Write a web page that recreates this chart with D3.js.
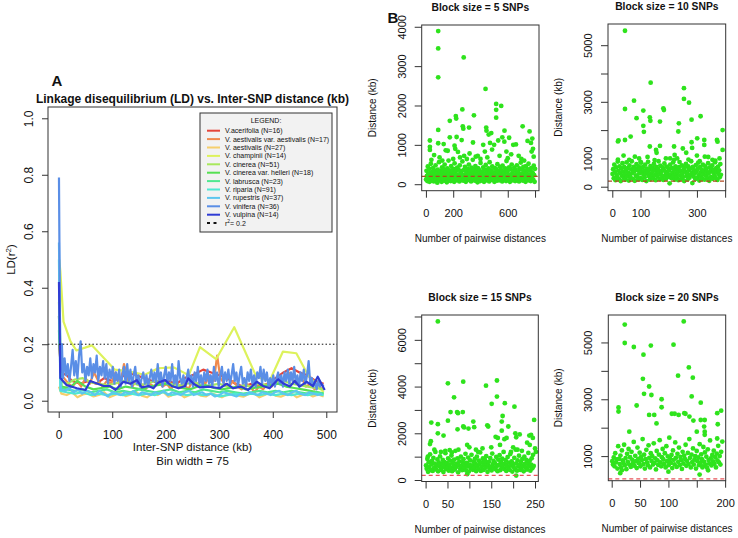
<!DOCTYPE html>
<html>
<head>
<meta charset="utf-8">
<script src="https://cdn.jsdelivr.net/npm/d3@7"></script>
<style>
  body { margin: 0; background: #fff; }
  svg { font-family: "Liberation Sans", Arial, Helvetica, sans-serif; }
</style>
</head>
<body>
<svg id="chart" width="738" height="538"></svg>
<script>
// ---------- Panel A: LD decay per species, [kb, r2] ----------
const species = [
  "V.acerifolia (N=16)", "V. aestivalis var. aestivalis (N=17)", "V. aestivalis (N=27)",
  "V. champinii (N=14)", "V. cinerea (N=51)", "V. cinerea var. helleri (N=18)",
  "V. labrusca (N=23)", "V. riparia (N=91)", "V. rupestris (N=37)",
  "V. vinifera (N=36)", "V. vulpina (N=14)"
];
const speciesColors = ["#e4453b", "#f08a4e", "#f6cf6c", "#ddf25c", "#a8e85c", "#55e052",
  "#4fe890", "#4fe8d2", "#5cc6ef", "#5a8ee6", "#2f3bd4"];

const acerifolia = [[0.5,0.2],[5,0.1],[15,0.09],[25,0.07],[40,0.06],[55,0.07],[70,0.06],[85,0.08],[100,0.07],[115,0.08],[130,0.1],[145,0.09],[160,0.08],[175,0.07],[190,0.06],[205,0.07],[220,0.06],[235,0.08],[250,0.09],[270,0.11],[285,0.1],[300,0.09],[315,0.08],[330,0.06],[345,0.05],[360,0.06],[375,0.05],[390,0.06],[405,0.08],[420,0.1],[435,0.115],[450,0.1],[465,0.09],[480,0.07],[495,0.06]];
const aestAest = [[0.5,0.3],[4,0.09],[10,0.08],[18,0.06],[26,0.05],[34,0.07],[42,0.05],[50,0.08],[58,0.06],[66,0.1],[74,0.07],[82,0.05],[90,0.07],[98,0.06],[106,0.1],[114,0.05],[122,0.13],[130,0.07],[138,0.05],[146,0.08],[154,0.06],[162,0.04],[170,0.06],[178,0.05],[186,0.07],[194,0.05],[202,0.06],[210,0.04],[218,0.07],[226,0.05],[234,0.06],[242,0.04],[250,0.07],[258,0.05],[266,0.08],[274,0.06],[282,0.09],[290,0.07],[296,0.16],[302,0.08],[310,0.06],[318,0.05],[326,0.07],[334,0.05],[342,0.04],[350,0.06],[358,0.05],[366,0.03],[374,0.05],[382,0.04],[390,0.06],[398,0.05],[406,0.07],[414,0.06],[422,0.08],[430,0.1],[438,0.07],[446,0.06],[454,0.08],[462,0.05],[470,0.06],[478,0.04],[486,0.05],[494,0.04]];
const aestivalis = [[0.5,0.05],[5,0.025],[15,0.02],[25,0.03],[35,0.012],[45,0.022],[55,0.026],[65,0.015],[75,0.02],[85,0.03],[95,0.012],[105,0.02],[115,0.028],[125,0.016],[135,0.022],[145,0.03],[155,0.018],[165,0.012],[175,0.025],[185,0.02],[195,0.032],[205,0.014],[215,0.022],[225,0.026],[235,0.012],[245,0.02],[255,0.03],[265,0.018],[275,0.015],[285,0.026],[295,0.02],[305,0.012],[315,0.022],[325,0.03],[335,0.018],[345,0.014],[355,0.024],[365,0.026],[375,0.012],[385,0.02],[395,0.03],[405,0.018],[415,0.014],[425,0.022],[435,0.026],[445,0.012],[455,0.02],[465,0.025],[475,0.015],[485,0.022],[495,0.015]];
const champinii = [[1,0.5],[3,0.46],[9,0.28],[22,0.21],[33,0.178],[62,0.196],[105,0.11],[130,0.104],[161,0.092],[186,0.115],[215,0.118],[243,0.09],[264,0.19],[294,0.147],[328,0.26],[369,0.086],[394,0.07],[419,0.174],[444,0.168],[466,0.09],[495,0.03]];
const cinerea = [[0.5,0.35],[5,0.07],[15,0.06],[30,0.075],[45,0.08],[60,0.065],[75,0.06],[90,0.055],[105,0.06],[120,0.07],[135,0.065],[150,0.055],[165,0.06],[180,0.07],[195,0.065],[210,0.06],[225,0.055],[240,0.06],[255,0.065],[270,0.05],[285,0.055],[300,0.06],[315,0.05],[330,0.045],[345,0.055],[360,0.05],[375,0.06],[390,0.055],[405,0.065],[420,0.07],[435,0.06],[450,0.055],[465,0.05],[480,0.045],[495,0.04]];
const helleri = [[0.5,0.25],[5,0.05],[20,0.045],[35,0.07],[50,0.05],[65,0.04],[80,0.045],[95,0.05],[110,0.04],[125,0.05],[140,0.045],[155,0.04],[170,0.05],[185,0.055],[200,0.06],[215,0.05],[230,0.045],[245,0.04],[260,0.05],[275,0.055],[290,0.045],[305,0.04],[320,0.045],[335,0.05],[350,0.04],[365,0.045],[380,0.05],[395,0.055],[410,0.06],[425,0.05],[440,0.045],[455,0.04],[470,0.035],[485,0.03],[495,0.025]];
const labrusca = [[0.5,0.3],[5,0.045],[15,0.04],[30,0.035],[45,0.04],[60,0.03],[75,0.035],[90,0.04],[105,0.03],[120,0.035],[135,0.03],[150,0.04],[165,0.035],[180,0.03],[195,0.035],[210,0.04],[225,0.03],[240,0.035],[255,0.03],[270,0.04],[285,0.035],[300,0.03],[315,0.035],[330,0.03],[345,0.025],[360,0.03],[375,0.035],[390,0.03],[405,0.035],[420,0.03],[435,0.035],[450,0.03],[465,0.025],[480,0.03],[495,0.025]];
const riparia = [[0.5,0.5],[3,0.035],[15,0.03],[30,0.025],[45,0.03],[60,0.02],[75,0.025],[90,0.02],[105,0.025],[120,0.02],[135,0.025],[150,0.02],[165,0.025],[180,0.02],[195,0.03],[210,0.02],[225,0.025],[240,0.02],[255,0.025],[270,0.02],[285,0.025],[300,0.015],[315,0.02],[330,0.025],[345,0.02],[360,0.025],[375,0.02],[390,0.025],[405,0.02],[420,0.025],[435,0.02],[450,0.025],[465,0.02],[480,0.025],[495,0.02]];
const rupestris = [[0.5,0.56],[4,0.04],[12,0.035],[20,0.045],[28,0.03],[36,0.04],[44,0.025],[52,0.035],[60,0.03],[68,0.02],[76,0.035],[84,0.025],[92,0.015],[100,0.03],[108,0.025],[116,0.02],[124,0.03],[132,0.025],[140,0.035],[148,0.02],[156,0.03],[164,0.025],[172,0.02],[180,0.03],[188,0.025],[196,0.035],[204,0.02],[212,0.03],[220,0.025],[228,0.02],[236,0.03],[244,0.035],[252,0.02],[260,0.025],[268,0.03],[276,0.02],[284,0.025],[292,0.015],[300,0.02],[308,0.03],[316,0.025],[324,0.02],[332,0.015],[340,0.025],[348,0.02],[356,0.03],[364,0.025],[372,0.02],[380,0.03],[388,0.025],[396,0.02],[404,0.03],[412,0.035],[420,0.025],[428,0.02],[436,0.03],[444,0.035],[452,0.025],[460,0.02],[468,0.03],[476,0.025],[484,0.02],[492,0.025]];
const vinifera = [[0.5,0.79],[3,0.1],[6,0.2],[8,0.08],[11,0.15],[14,0.09],[17,0.13],[20,0.07],[23,0.12],[26,0.18],[29,0.09],[32,0.14],[35,0.08],[38,0.16],[41,0.21],[44,0.1],[47,0.13],[50,0.07],[53,0.12],[56,0.09],[59,0.15],[62,0.08],[65,0.13],[68,0.1],[71,0.16],[74,0.07],[77,0.12],[80,0.09],[83,0.14],[86,0.08],[89,0.13],[92,0.06],[95,0.11],[98,0.08],[101,0.12],[104,0.06],[107,0.1],[110,0.07],[113,0.11],[116,0.05],[119,0.09],[122,0.12],[125,0.06],[128,0.13],[131,0.07],[134,0.11],[137,0.05],[140,0.09],[143,0.12],[146,0.06],[149,0.09],[152,0.05],[155,0.08],[158,0.1],[161,0.06],[164,0.09],[167,0.05],[170,0.08],[173,0.11],[176,0.07],[179,0.1],[182,0.06],[185,0.13],[188,0.07],[191,0.1],[194,0.05],[197,0.09],[200,0.12],[203,0.06],[206,0.1],[209,0.07],[212,0.13],[215,0.06],[218,0.09],[221,0.05],[224,0.14],[227,0.08],[230,0.06],[233,0.09],[236,0.05],[239,0.08],[242,0.11],[245,0.06],[248,0.09],[251,0.05],[254,0.1],[257,0.07],[260,0.12],[263,0.06],[266,0.09],[269,0.05],[272,0.1],[275,0.07],[278,0.11],[281,0.06],[284,0.09],[287,0.05],[290,0.12],[293,0.07],[296,0.1],[299,0.05],[302,0.09],[305,0.12],[308,0.06],[311,0.1],[314,0.07],[317,0.11],[320,0.06],[323,0.09],[326,0.13],[329,0.07],[332,0.1],[335,0.05],[338,0.09],[341,0.12],[344,0.06],[347,0.08],[350,0.05],[353,0.1],[356,0.07],[359,0.11],[362,0.06],[365,0.09],[368,0.05],[371,0.1],[374,0.08],[377,0.12],[380,0.06],[383,0.11],[386,0.07],[389,0.1],[392,0.05],[395,0.08],[398,0.06],[401,0.09],[404,0.05],[407,0.08],[410,0.1],[413,0.06],[416,0.09],[419,0.05],[422,0.1],[425,0.07],[428,0.11],[431,0.06],[434,0.1],[437,0.07],[440,0.12],[443,0.06],[446,0.09],[449,0.05],[452,0.1],[455,0.07],[458,0.11],[461,0.06],[464,0.09],[467,0.14],[470,0.06],[473,0.08],[476,0.05],[479,0.07],[482,0.04],[485,0.07],[488,0.05],[491,0.06],[495,0.05]];
const vulpina = [[0.5,0.42],[3,0.08],[15,0.055],[34,0.044],[50,0.038],[59,0.07],[84,0.052],[96,0.052],[106,0.038],[121,0.067],[134,0.06],[146,0.073],[155,0.047],[168,0.052],[177,0.044],[186,0.064],[199,0.073],[211,0.052],[224,0.044],[236,0.052],[242,0.079],[252,0.06],[264,0.047],[280,0.05],[301,0.044],[314,0.06],[326,0.044],[340,0.05],[354,0.038],[370,0.067],[382,0.052],[394,0.044],[410,0.076],[419,0.062],[432,0.05],[441,0.07],[450,0.05],[463,0.067],[475,0.052],[484,0.085],[497,0.038]];
const ldSeries = [acerifolia, aestAest, aestivalis, champinii, cinerea, helleri, labrusca, riparia, rupestris, vinifera, vulpina];
const ldThreshold = 0.2;
const ldXTicks = [0, 100, 200, 300, 400, 500];
const ldYTicks = [0, 0.2, 0.4, 0.6, 0.8, 1.0];

// ---------- Panel B: distance between consecutive blocks ----------
// dense low band, listed in pairwise order; high points as [index, kb]
const b5Count = 800;
const b5Band = [120,340,210,80,450,260,150,390,60,280,180,520,230,90,310,140,410,200,70,350,250,160,480,110,300,190,40,370,220,130,560,270,100,330,170,240,60,430,290,150,380,210,90,500,260,130,320,180,50,400,230,140,600,280,110,350,200,80,460,250,170,310,120,390,220,60,530,290,150,340,190,100,420,240,130,370,210,70,480,270,160,330,110,250,580,200,90,360,230,140,440,180,60,310,260,120,390,210,150,500,280,100,350,190,70,420,240,130,620,300,170,380,220,90,460,260,140,330,200,50,410,250,110,360,180,80,540,290,160,320,210,120,430,230,60,370,270,150,490,200,100,340,180,130,400,260,70,560,310,190,350,220,110,450,240,140,300,170,60,410,280,120,380,200,90,510,250,160,330,210,100,440,270,140,360,190,70,470,230,120,320,260,150,400,180,80,590,300,130,350,220,110,430,240,60,380,190,150,500,270,100,340,210,130,420,250,80,360,180,160,480,290,110,310,230,70,400,200,140,550,260,120,370,190,90,440,240,150,330,210,60,460,280,130,380,200,100,520,250,170,350,220,80,410,190,140,300,260,110,470,230,60,390];
const b5High = [[90,3890],[90,3450],[90,2715],[277,3220],[437,2420],[515,2040],[515,1890],[515,1690],[552,1990],[90,1380],[90,1040],[175,1610],[219,1730],[222,1670],[267,1900],[270,1470],[274,1410],[316,1440],[352,1750],[442,1440],[444,1360],[479,1300],[576,1360],[709,1470],[760,1340],[29,1110],[29,950],[29,870],[60,740],[100,680],[130,1020],[145,860],[160,850],[175,1190],[210,980],[215,900],[225,1200],[235,820],[250,680],[262,1120],[280,720],[300,640],[320,780],[345,1060],[365,700],[400,640],[420,1000],[432,830],[460,1260],[470,1050],[485,880],[500,1000],[530,1110],[540,720],[560,1190],[575,1080],[590,830],[610,1180],[625,760],[640,1000],[660,1010],[680,720],[700,640],[745,1100],[770,1050],[775,830],[780,1160],[785,900],[790,700],[40,620],[120,600],[200,640],[380,720],[450,680],[600,660],[720,600]];

const b10Count = 385;
const b10Band = [450,620,300,780,520,230,680,410,350,890,560,270,720,480,200,640,390,830,530,310,700,440,250,590,860,370,660,500,220,750,430,320,610,900,480,280,700,540,210,650,400,800,350,580,260,720,470,620,300,850,510,240,690,420,560,330,780,460,200,640,520,880,380,600,250,730,450,340,670,540,290,810,410,590,230,700,480,360,620,900,500,270,740,430,550,310,680,240,600,820,390,520,280,710,460,350,640,570,120,780,420,300,660,500,860,370,590,250,720,440,330,620,510,230,690,870,400,560,290,750,470,340,610,200,680,530,810,380,450,260,720,590,320,640,420,900,500,130,700,360,580,470,270,760,540,310,630,850,410,220,690,500,350,600,280,780,440,570,250,720,390,640,520,300,830,460,210,680,550,340,620,750,280,490,590,400,860,310,660,520,240,710,450,580,330,800,420];
const b10High = [[45,5510],[136,3675],[254,3480],[254,3100],[272,2970],[77,3040],[45,2745],[110,2690],[181,2770],[183,2710],[86,2420],[133,2450],[135,2330],[169,2300],[281,2370],[313,2490],[234,1950],[236,2240],[110,2150],[112,1940],[20,1600],[22,1640],[65,1770],[45,1650],[301,1710],[326,1650],[371,1650],[373,1590],[391,2000],[391,1300],[219,1420],[221,1120],[219,950],[133,1420],[169,1440],[281,1570],[283,1370],[80,1060],[155,1300],[157,1200],[326,1475],[328,1060],[40,1100],[60,950],[95,1000],[125,1050],[190,1000],[205,1000],[250,1350],[262,1200],[300,1100],[340,1050],[355,950],[380,1000],[20,960],[100,880],[150,940],[230,1000],[270,960],[310,900],[365,920]];

const b15Count = 247;
const b15Band = [620,480,900,350,760,560,1100,420,680,820,390,950,530,700,1200,460,640,880,370,750,580,1010,430,690,520,860,340,780,610,1150,470,720,550,920,400,660,830,510,1050,380,740,600,870,450,1250,560,700,930,330,640,800,480,1000,590,420,760,890,520,670,1120,410,730,580,960,360,650,840,500,1080,620,440,790,550,900,710,380,1000,600,470,830,680,1180,390,560,750,920,430,640,860,520,1020,700,350,610,780,490,940,570,410,1130,680,820,530,720,460,990,600,380,870,650,1060,420,760,540,910,630,1200,470,700,850,390,590,980,510,740,440,1110,620,800,360,690,560,950,480,1300,710,400,840,580,1040,650,430,770,520,900,610,370,1000,690,540,860,450,720,1160,580,820,400,660,930,500,1080,600];
const b15High = [[28,6790],[51,4140],[65,3540],[86,4210],[138,4040],[163,4260],[163,3570],[151,3260],[181,3290],[203,3140],[28,2390],[28,2000],[13,2460],[41,1900],[51,2540],[57,2910],[72,2910],[74,2860],[85,2910],[73,2170],[86,2290],[88,2250],[98,2200],[109,2500],[111,2260],[141,2340],[143,2290],[174,2500],[174,2110],[176,2740],[189,2290],[205,2000],[207,1830],[237,1900],[241,1930],[248,2570],[10,1540],[12,1660],[5,1000],[20,1300],[35,1200],[45,1250],[55,1280],[60,1180],[75,1300],[95,1500],[100,1400],[115,1300],[120,1200],[130,1350],[150,1400],[160,1850],[165,1800],[170,1500],[180,1750],[185,1800],[195,1200],[200,1400],[210,1300],[215,1950],[220,1250],[232,1600],[238,1500],[245,1800],[250,1350],[252,1200],[135,800],[207,190],[95,250]];

const b20Count = 193;
const b20Band = [820,700,950,640,1100,780,880,560,1350,900,720,1020,600,1200,850,760,1400,680,930,540,1080,800,1250,700,960,620,1150,870,740,1500,660,1010,820,580,1300,900,750,1120,640,980,860,1600,720,1050,560,890,1220,780,680,1380,940,600,1100,830,1000,700,1450,760,920,530,1180,850,690,1050,1560,780,640,960,1250,880,720,1100,600,1350,820,990,680,1650,900,760,1040,580,1200,870,710,1480,940,620,1080,800,1300,680,970,860,550,1150,740,1020,900,1400,660,830,1110,720,1600,940,600,1050,790,1270,700,880,1000,560,1180,820,950,680,1420,760,1060,890,640,1320,800,1130,700,980,590,1240,860,740,1550,920,670,1040,810,1190,730,960,600,1090,850,1360,780,1000,700,1150];
const b20High = [[23,5630],[23,4980],[39,4840],[69,4890],[56,4570],[109,4920],[127,5740],[117,3830],[136,4120],[143,3760],[55,3720],[66,3450],[57,3190],[70,3150],[88,3000],[141,3100],[157,2880],[12,2710],[12,2570],[44,2780],[88,2720],[66,2450],[75,2450],[79,2150],[106,2490],[111,2490],[118,2450],[128,2510],[130,2490],[137,2390],[144,2250],[157,2270],[164,2270],[163,2040],[186,2510],[187,2120],[193,2600],[31,1860],[150,1860],[164,1860],[164,1750],[186,1620],[195,1510],[15,400],[18,500],[100,450],[155,350],[160,600],[170,500]];

const blockCutoff = 200;

const font = "Liberation Sans, Arial, Helvetica, sans-serif";
const svg = d3.select("#chart");

// R style axes: ticks with some labels dropped
function bottomAxis(scale, ticks, labels, y0, tick, labelY, size) {
    const g = svg.append("g")
        .attr("transform", `translate(0,${y0})`)
        .call(d3.axisBottom(scale).tickValues(ticks).tickSize(tick).tickSizeOuter(0)
            .tickFormat((d, i) => labels[i]))
        .attr("font-family", font)
        .attr("color", "#333");
    g.select(".domain").remove();
    g.selectAll("text").attr("y", labelY - y0).attr("dy", null)
        .attr("fill", "#111").style("font-size", size + "px");
}

function leftAxis(scale, ticks, labels, x0, tick, labelX, size) {
    const g = svg.append("g")
        .attr("transform", `translate(${x0},0)`)
        .call(d3.axisLeft(scale).tickValues(ticks).tickSize(tick).tickSizeOuter(0)
            .tickFormat((d, i) => labels[i]))
        .attr("font-family", font)
        .attr("color", "#333");
    g.select(".domain").remove();
    g.selectAll("text")
        .attr("x", null).attr("dy", null)
        .attr("text-anchor", "middle")
        .attr("transform", `translate(${labelX - x0},0) rotate(-90)`)
        .attr("fill", "#111").style("font-size", size + "px");
}

function label(x, y, txt, size, bold, rot) {
    const t = svg.append("text")
        .attr("x", rot ? 0 : x).attr("y", rot ? 0 : y)
        .attr("text-anchor", "middle")
        .style("font-size", size + "px")
        .style("font-weight", bold ? "bold" : "normal")
        .attr("fill", "#111")
        .text(txt);
    if (rot) t.attr("transform", `translate(${x},${y}) rotate(-90)`);
    return t;
}

// ================= Panel A =================
const ax = { left: 48, right: 337, top: 107, bottom: 412 };
const xA = d3.scaleLinear().domain([-20, 520]).range([ax.left, ax.right]);
const yA = d3.scaleLinear().domain([-0.04, 1.04]).range([ax.bottom, ax.top]);

const lineA = d3.line().x(d => xA(d[0])).y(d => yA(d[1]));

svg.append("g").selectAll("path")
    .data(ldSeries)
    .enter().append("path")
    .attr("d", lineA)
    .attr("fill", "none")
    .attr("stroke", (d, i) => speciesColors[i])
    .attr("stroke-width", 2.2)
    .attr("stroke-linejoin", "round");

svg.append("line")
    .attr("x1", ax.left).attr("x2", ax.right)
    .attr("y1", yA(ldThreshold)).attr("y2", yA(ldThreshold))
    .attr("stroke", "#111").attr("stroke-width", 1)
    .attr("stroke-dasharray", "1.5,2.2");

svg.append("rect")
    .attr("x", ax.left).attr("y", ax.top)
    .attr("width", ax.right - ax.left).attr("height", ax.bottom - ax.top)
    .attr("fill", "none").attr("stroke", "#333");

bottomAxis(xA, ldXTicks, ldXTicks.map(String), ax.bottom, 6, 439, 12);
leftAxis(yA, ldYTicks, ldYTicks.map(d => d.toFixed(1)), ax.left, 6, 33, 12);

label(192.5, 103, "Linkage disequilibrium (LD) vs. Inter-SNP distance (kb)", 12, true);
label(57, 86, "A", 15, true);
label(192.5, 451, "Inter-SNP distance (kb)", 11.5, false);
label(192.5, 465, "Bin width = 75", 11.5, false);
const ldLab = label(15, 259.5, "LD(r", 11.5, false, true);
ldLab.append("tspan").attr("dy", -4).style("font-size", "8px").text("2");
ldLab.append("tspan").attr("dy", 4).text(")");

// legend
const legFont = "7px";
const leg = svg.append("g");
leg.append("rect").attr("x", 200).attr("y", 113).attr("width", 132).attr("height", 119)
    .attr("fill", "#f2f2f2").attr("stroke", "#333");
leg.append("text").attr("x", 266).attr("y", 123).attr("text-anchor", "middle")
    .style("font-size", legFont).attr("fill", "#111").text("LEGEND:");
species.forEach((s, i) => {
    const yy = 130.7 + i * 8.4;
    leg.append("line").attr("x1", 207).attr("x2", 220).attr("y1", yy).attr("y2", yy)
        .attr("stroke", speciesColors[i]).attr("stroke-width", 2);
    leg.append("text").attr("x", 225).attr("y", yy + 2.4).style("font-size", legFont)
        .attr("fill", "#111").text(s);
});
const ry = 130.7 + 11 * 8.4;
leg.append("line").attr("x1", 207).attr("x2", 220).attr("y1", ry).attr("y2", ry)
    .attr("stroke", "#111").attr("stroke-width", 2).attr("stroke-dasharray", "3,3.5");
const rt = leg.append("text").attr("x", 225).attr("y", ry + 2.4).style("font-size", legFont).attr("fill", "#111").text("r");
rt.append("tspan").attr("dy", -2.6).style("font-size", "4.8px").text("2");
rt.append("tspan").attr("dy", 2.6).text("= 0.2");

// ================= Panel B =================
label(393, 23, "B", 15, true);

const blocks = [
    { title: "Block size = 5 SNPs", count: b5Count, band: b5Band, high: b5High,
      box: [421.7, 539, 25, 190.7], xd: [-31, 829], yd: [-165, 4045],
      xt: [0, 200, 400, 600, 800], xl: ["0", "200", "", "600", ""],
      yt: [0, 1000, 2000, 3000, 4000], yl: ["0", "1000", "2000", "3000", "4000"], cut: "#b04a22" },
    { title: "Block size = 10 SNPs", count: b10Count, band: b10Band, high: b10High,
      box: [608, 725.7, 24, 190.7], xd: [-15.2, 402], yd: [-141, 5749],
      xt: [0, 100, 200, 300, 400], xl: ["0", "100", "", "300", ""],
      yt: [0, 1000, 2000, 3000, 4000, 5000], yl: ["0", "1000", "", "3000", "", "5000"], cut: "#b04a22" },
    { title: "Block size = 15 SNPs", count: b15Count, band: b15Band, high: b15High,
      box: [421.7, 538.3, 315, 481.5], xd: [-8.9, 257.5], yd: [-64, 7064],
      xt: [0, 50, 100, 150, 200, 250], xl: ["0", "50", "", "150", "", "250"],
      yt: [0, 1000, 2000, 3000, 4000, 5000, 6000, 7000], yl: ["0", "", "2000", "", "4000", "", "6000", ""], cut: "#e8545a" },
    { title: "Block size = 20 SNPs", count: b20Count, band: b20Band, high: b20High,
      box: [608.3, 725.7, 315, 480.7], xd: [-6, 201], yd: [134, 5966],
      xt: [0, 50, 100, 150, 200], xl: ["0", "50", "100", "", "200"],
      yt: [1000, 2000, 3000, 4000, 5000], yl: ["1000", "", "3000", "", "5000"], cut: "#e8545a" }
];

blocks.forEach(b => {
    const [l, r, t, btm] = b.box;
    const x = d3.scaleLinear().domain(b.xd).range([l, r]);
    const y = d3.scaleLinear().domain(b.yd).range([btm, t]);

    const bandStep = (b.count - 1) / (b.band.length - 1);
    const pts = b.band.map((v, i) => [1 + i * bandStep, v]).concat(b.high);

    svg.append("g").selectAll("circle")
        .data(pts)
        .enter().append("circle")
        .attr("cx", d => x(d[0]))
        .attr("cy", d => y(d[1]))
        .attr("r", 2.4)
        .attr("fill", "#2ee31c");

    svg.append("line")
        .attr("x1", l).attr("x2", r)
        .attr("y1", y(blockCutoff)).attr("y2", y(blockCutoff))
        .attr("stroke", b.cut).attr("stroke-width", 1.2)
        .attr("stroke-dasharray", "4,3");

    svg.append("rect")
        .attr("x", l).attr("y", t).attr("width", r - l).attr("height", btm - t)
        .attr("fill", "none").attr("stroke", "#333");

    bottomAxis(x, b.xt, b.xl, btm, 7, btm + 26, 11);
    leftAxis(y, b.yt, b.yl, l, 7, l - 16, 11);

    label((l + r) / 2, t - 14, b.title, 10.3, true);
    label((l + r) / 2, btm + 51, "Number of pairwise distances", 10, false);
    label(l - 46, (t + btm) / 2, "Distance (kb)", 10, false, true);
});
</script>
</body>
</html>
